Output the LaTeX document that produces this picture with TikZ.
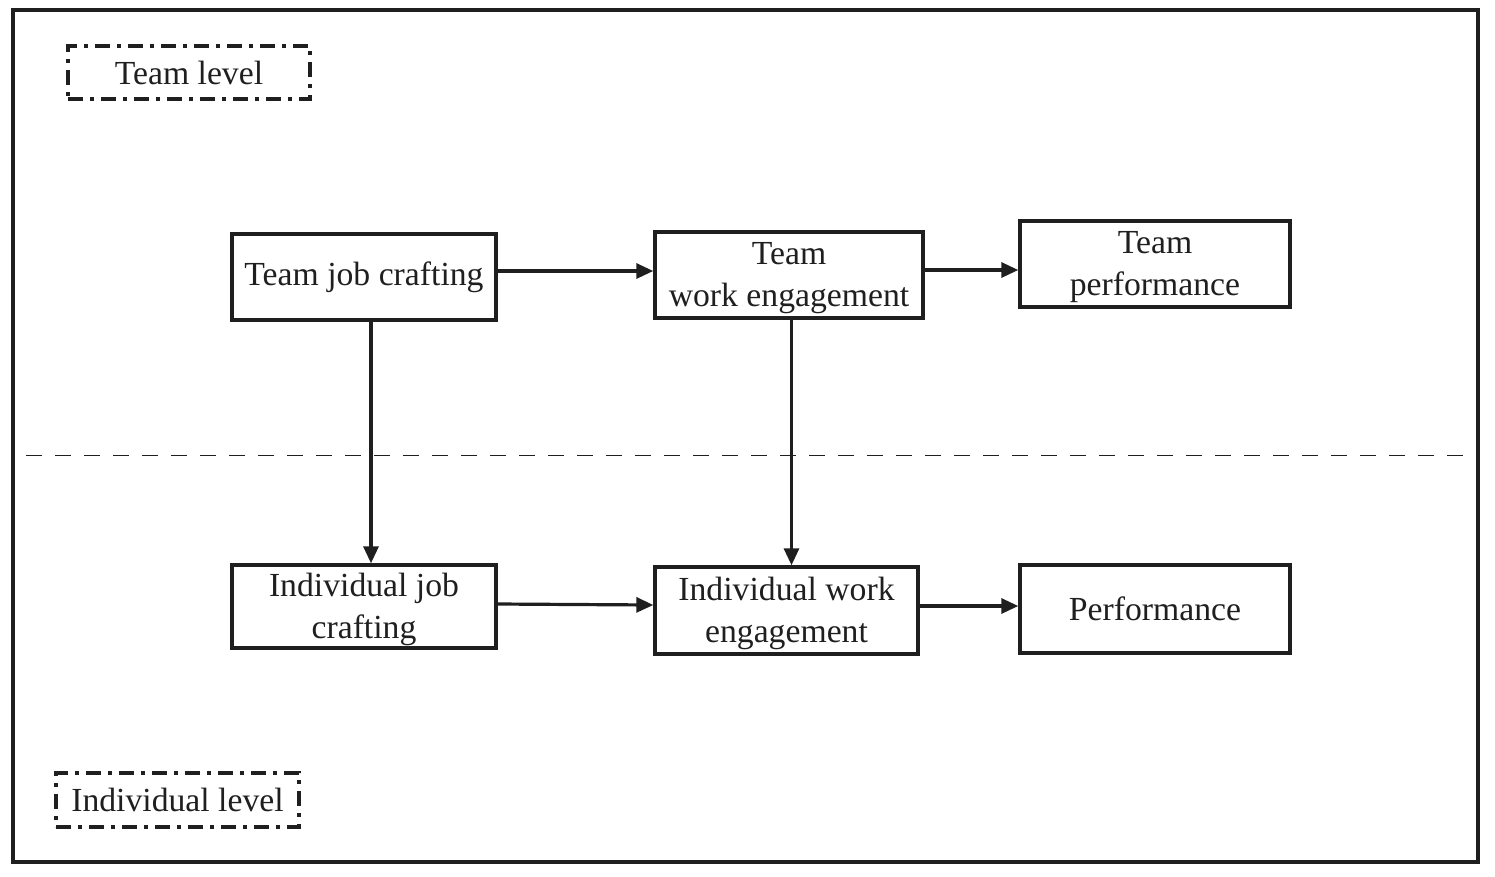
\documentclass[tikz,border=0pt]{standalone}
\usepackage{fontspec}
\setmainfont{Liberation Serif}
\usetikzlibrary{arrows.meta}
\newcommand{\toppad}{\rule{0pt}{29pt}}
\begin{document}
\begin{tikzpicture}[x=1pt,y=-1pt,
  every node/.style={font=\fontsize{33.7}{42}\selectfont, text=black!88},
  boxnode/.style={draw=black!88, line width=3.4pt, align=center, inner sep=0pt},
  levelbox/.style={draw=black!88, line width=4pt, dash pattern=on 15pt off 7pt on 4pt off 7pt, inner sep=0pt},
  arr/.style={draw=black!88, line width=3.2pt, -{Triangle[length=17pt,width=15pt]}},
]
\useasboundingbox (0,0) rectangle (1495,876);
\draw[line width=3.4pt, draw=black!88] (13,10) rectangle (1478,862);
\draw[line width=1.8pt, draw=black!88, dash pattern=on 16pt off 13pt] (26,455.5) -- (1464,455.5);

\node[levelbox, minimum width=242pt, minimum height=53pt] (tl) at (189,72.5) {Team level};
\node[levelbox, minimum width=243pt, minimum height=54pt] (il) at (177.5,800) {Individual level};

\node[boxnode, minimum width=264pt, minimum height=86pt] (tjc) at (364,277) {Team job crafting};
\node[boxnode, minimum width=268pt, minimum height=86pt] (twe) at (789,275) {\toppad Team\\work engagement};
\node[boxnode, minimum width=270pt, minimum height=86pt] (tp) at (1155,264) {\toppad Team\\performance};
\node[boxnode, minimum width=264pt, minimum height=83pt] (ijc) at (364,606.5) {\toppad Individual job\\crafting};
\node[boxnode, minimum width=263pt, minimum height=87pt] (iwe) at (786.5,610.5) {\toppad Individual work\\engagement};
\node[boxnode, minimum width=270pt, minimum height=88pt] (perf) at (1155,609) {Performance};

\draw[arr] ([yshift=6pt]tjc.east) -- ([yshift=6pt]tjc.east -| twe.west);
\draw[arr] ([yshift=5pt]twe.east) -- ([yshift=5pt]twe.east -| tp.west);
\draw[arr] ([xshift=7pt]tjc.south) -- ([xshift=7pt]tjc.south |- ijc.north);
\draw[arr] ([xshift=2.5pt]twe.south) -- ([xshift=2.5pt]twe.south |- iwe.north);
\draw[arr] ([yshift=2.5pt]ijc.east) -- ([yshift=1.5pt]ijc.east -| iwe.west);
\draw[arr] ([yshift=4.5pt]iwe.east) -- ([yshift=4.5pt]iwe.east -| perf.west);
\end{tikzpicture}
\end{document}
